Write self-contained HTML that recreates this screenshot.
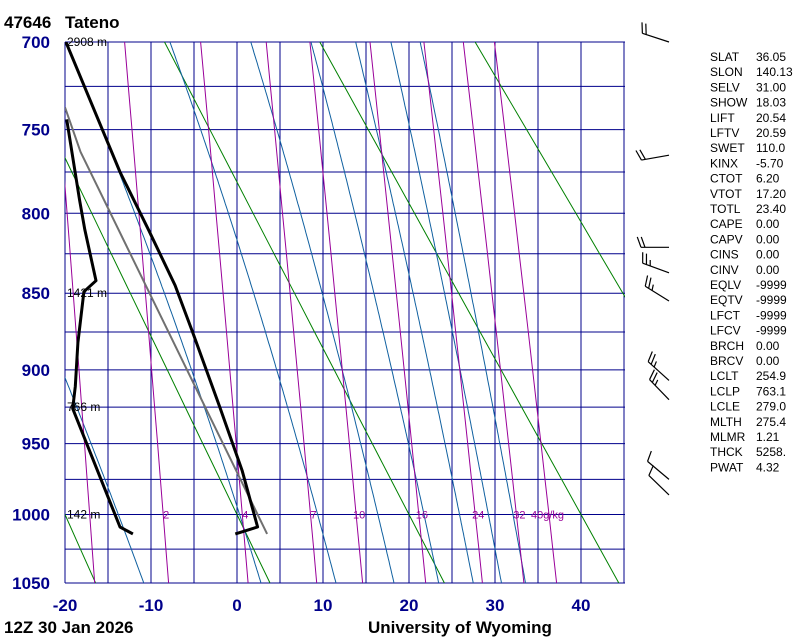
<!DOCTYPE html>
<html><head><meta charset="utf-8"><style>
body{margin:0;background:#fff;}
svg{display:block;font-family:"Liberation Sans",Arial,sans-serif;}
</style></head><body>
<svg id="chart" width="800" height="640" viewBox="0 0 800 640">
<defs><clipPath id="plotclip"><rect x="65" y="42" width="560" height="541"/></clipPath></defs>
<g id="grid"></g>
<g id="adiabats" clip-path="url(#plotclip)"></g>
<g id="profiles" clip-path="url(#plotclip)"></g>
<g id="labels"></g>
<g id="barbs"></g>
<text x="4" y="28" font-size="17" font-weight="bold">47646</text>
<text x="65" y="28" font-size="17" font-weight="bold">Tateno</text>
<text x="4" y="633" font-size="17" font-weight="bold">12Z 30 Jan 2026</text>
<text x="368" y="633" font-size="17" font-weight="bold">University of Wyoming</text>
<g id="indices" font-size="12"></g>
</svg>
<script>
const pLevels=[700,750,800,850,900,950,1000,1050];
const pGrid=[700,725,750,775,800,825,850,875,900,925,950,975,1000,1025,1050];
const tTicks=[-20,-10,0,10,20,30,40];
const dryTheta=[253.15,273.15,293.15,313.15,333.15];
const moistT700=[-36.5,-19.8,-7.8,1.6,8.6,13.8,17.9,21.3];
const mixRatios=[1,2,4,7,10,16,24,32,40];
const mixLabels=["","2","4","7","10","16","24","32","40g/kg"];
const tempP=[700,775,810,845,876,925,969,1009,1014];
const tempT=[-19.9,-13.6,-10.3,-7.2,-5.1,-2.0,0.6,2.4,-0.2];
const dewP=[744,792,810,842,849,882,911,926,1009,1014];
const dewT=[-19.8,-18.3,-17.7,-16.4,-17.8,-18.5,-18.8,-19.1,-13.6,-12.1];
const parcelP=[1014,763,737];
const parcelT=[3.5,-18.2,-20];
const heightP=[700,850,925,1000];
const heightLbl=["2908 m","1421 m","766 m","142 m"];
const windP=[700,765,821,837,855,907,920,975,986];
const windDir=[288,260,270,290,302,312,316,310,314];
const windSpd=[20,20,20,25,25,25,25,10,10];
const idxNames=["SLAT","SLON","SELV","SHOW","LIFT","LFTV","SWET","KINX","CTOT","VTOT","TOTL","CAPE","CAPV","CINS","CINV","EQLV","EQTV","LFCT","LFCV","BRCH","BRCV","LCLT","LCLP","LCLE","MLTH","MLMR","THCK","PWAT"];
const idxVals=["36.05","140.13","31.00","18.03","20.54","20.59","110.0","-5.70","6.20","17.20","23.40","0.00","0.00","0.00","0.00","-9999","-9999","-9999","-9999","0.00","0.00","254.9","763.1","279.0","275.4","1.21","5258.","4.32"];

const K=0.286, X0=65, X1=625, Y0=42, Y1=583;
const k700=Math.pow(700,K), k1050=Math.pow(1050,K);
function yP(p){return Y0+(Math.pow(p,K)-k700)/(k1050-k700)*(Y1-Y0);}
function xT(t){return 237+t*8.6;}
const NS="http://www.w3.org/2000/svg";
function mk(tag,attrs,parent){const e=document.createElementNS(NS,tag);for(const k in attrs)e.setAttribute(k,attrs[k]);parent.appendChild(e);return e;}
const grid=document.getElementById('grid'),adi=document.getElementById('adiabats'),prof=document.getElementById('profiles'),lab=document.getElementById('labels'),barbs=document.getElementById('barbs');
const NAVY="#00008b";
for(let t=-20;t<=45;t+=5){const x=xT(t);
 const l=mk('line',{x1:x,y1:Y0,x2:x,y2:Y1,stroke:NAVY,'stroke-width':1},grid);
 
 }
pGrid.forEach(p=>{const y=yP(p);
 const l=mk('line',{x1:X0,y1:y,x2:X1,y2:y,stroke:NAVY,'stroke-width':1},grid);
 
 });
pLevels.forEach(p=>{const t=mk('text',{x:50,y:yP(p)+6,'text-anchor':'end','font-size':17,'font-weight':'bold',fill:NAVY},lab);t.textContent=p;
 
 });
tTicks.forEach(v=>{const t=mk('text',{x:xT(v),y:611,'text-anchor':'middle','font-size':17,'font-weight':'bold',fill:NAVY},lab);t.textContent=v;
 
 });
function pts(arr){return arr.map(a=>a[0].toFixed(1)+','+a[1].toFixed(1)).join(' ');}
dryTheta.forEach(th=>{const a=[];for(let p=700;p<=1050;p+=25)a.push([xT(th*Math.pow(p/1000,K)-273.15),yP(p)]);
 const l=mk('polyline',{points:pts(a),fill:'none',stroke:'#008000','stroke-width':1},adi);
 
 });
function es(tc){return 6.112*Math.exp(17.67*tc/(tc+243.5));}
function dTdp(T,p){const tc=T-273.15,e=es(tc),rs=0.622*e/(p-e),Lv=2.5e6,Rd=287,Cp=1005;
 return (1/p)*(Rd*T+Lv*rs)/(Cp+Lv*Lv*rs*0.622/(Rd*T*T));}
moistT700.forEach(t0=>{let T=t0+273.15,p=700;const a=[[xT(t0),yP(700)]];
 while(p<1050){const h=2;T+=dTdp(T,p)*h;p+=h;a.push([xT(T-273.15),yP(p)]);}
 const l=mk('polyline',{points:pts(a),fill:'none',stroke:'#1060a0','stroke-width':1},adi);
 
 });
function tdW(w,p){const e=w*p/(622+w);const L=Math.log(e/6.112);return 243.5*L/(17.67-L);}
mixRatios.forEach((w,i)=>{const a=[];for(let p=700;p<=1050;p+=25)a.push([xT(tdW(w,p)),yP(p)]);
 const l=mk('polyline',{points:pts(a),fill:'none',stroke:'#990099','stroke-width':1},adi);
 
 
 if(mixLabels[i]){const t=mk('text',{x:xT(tdW(w,1000))+3,y:yP(1000)+4,'text-anchor':i==8?'start':'middle','font-size':11,fill:'#990099'},lab);t.textContent=mixLabels[i];
 if(i==8)t.setAttribute('x',xT(tdW(w,1000))-18);
 
 }});
function prof_(P,T,col,w,name){const a=P.map((p,i)=>[xT(T[i]),yP(p)]);
 const l=mk('polyline',{points:pts(a),fill:'none',stroke:col,'stroke-width':w,'stroke-linejoin':'round'},prof);
 
 }
prof_(parcelP,parcelT,'#707070',2,'parcel-path');
prof_(tempP,tempT,'#000',3,'temperature-profile');
prof_(dewP,dewT,'#000',3,'dewpoint-profile');
heightP.forEach((p,i)=>{const t=mk('text',{x:67,y:yP(p)+4,'font-size':12,fill:'#000'},lab);t.textContent=heightLbl[i];
 
 });
windP.forEach((p,i)=>{const bx=669,by=yP(p),d=windDir[i]*Math.PI/180;
 const vx=Math.sin(d),vy=-Math.cos(d),L=28;const tx=bx+vx*L,ty=by+vy*L;
 const g=mk('g',{stroke:'#000','stroke-width':1.2,fill:'none'},barbs);
 
 
 mk('line',{x1:bx,y1:by,x2:tx,y2:ty},g);
 const px=-vy,py=vx; let s=windSpd[i],k=0;
 const bxv=px*0.94+vx*0.34,byv=py*0.94+vy*0.34;
 while(s>=10){const sx=tx-vx*k*4,sy=ty-vy*k*4;mk('line',{x1:sx,y1:sy,x2:sx+bxv*11,y2:sy+byv*11},g);s-=10;k++;}
 if(s>=5){const sx=tx-vx*k*4,sy=ty-vy*k*4;mk('line',{x1:sx,y1:sy,x2:sx+bxv*6,y2:sy+byv*6},g);}
});
const ind=document.getElementById('indices');
idxNames.forEach((n,i)=>{const y=61+i*15.2;
 const a=mk('text',{x:710,y:y},ind);a.textContent=n;
 
 
 const b=mk('text',{x:756,y:y},ind);b.textContent=idxVals[i];
 
 });
</script>
</body></html>
